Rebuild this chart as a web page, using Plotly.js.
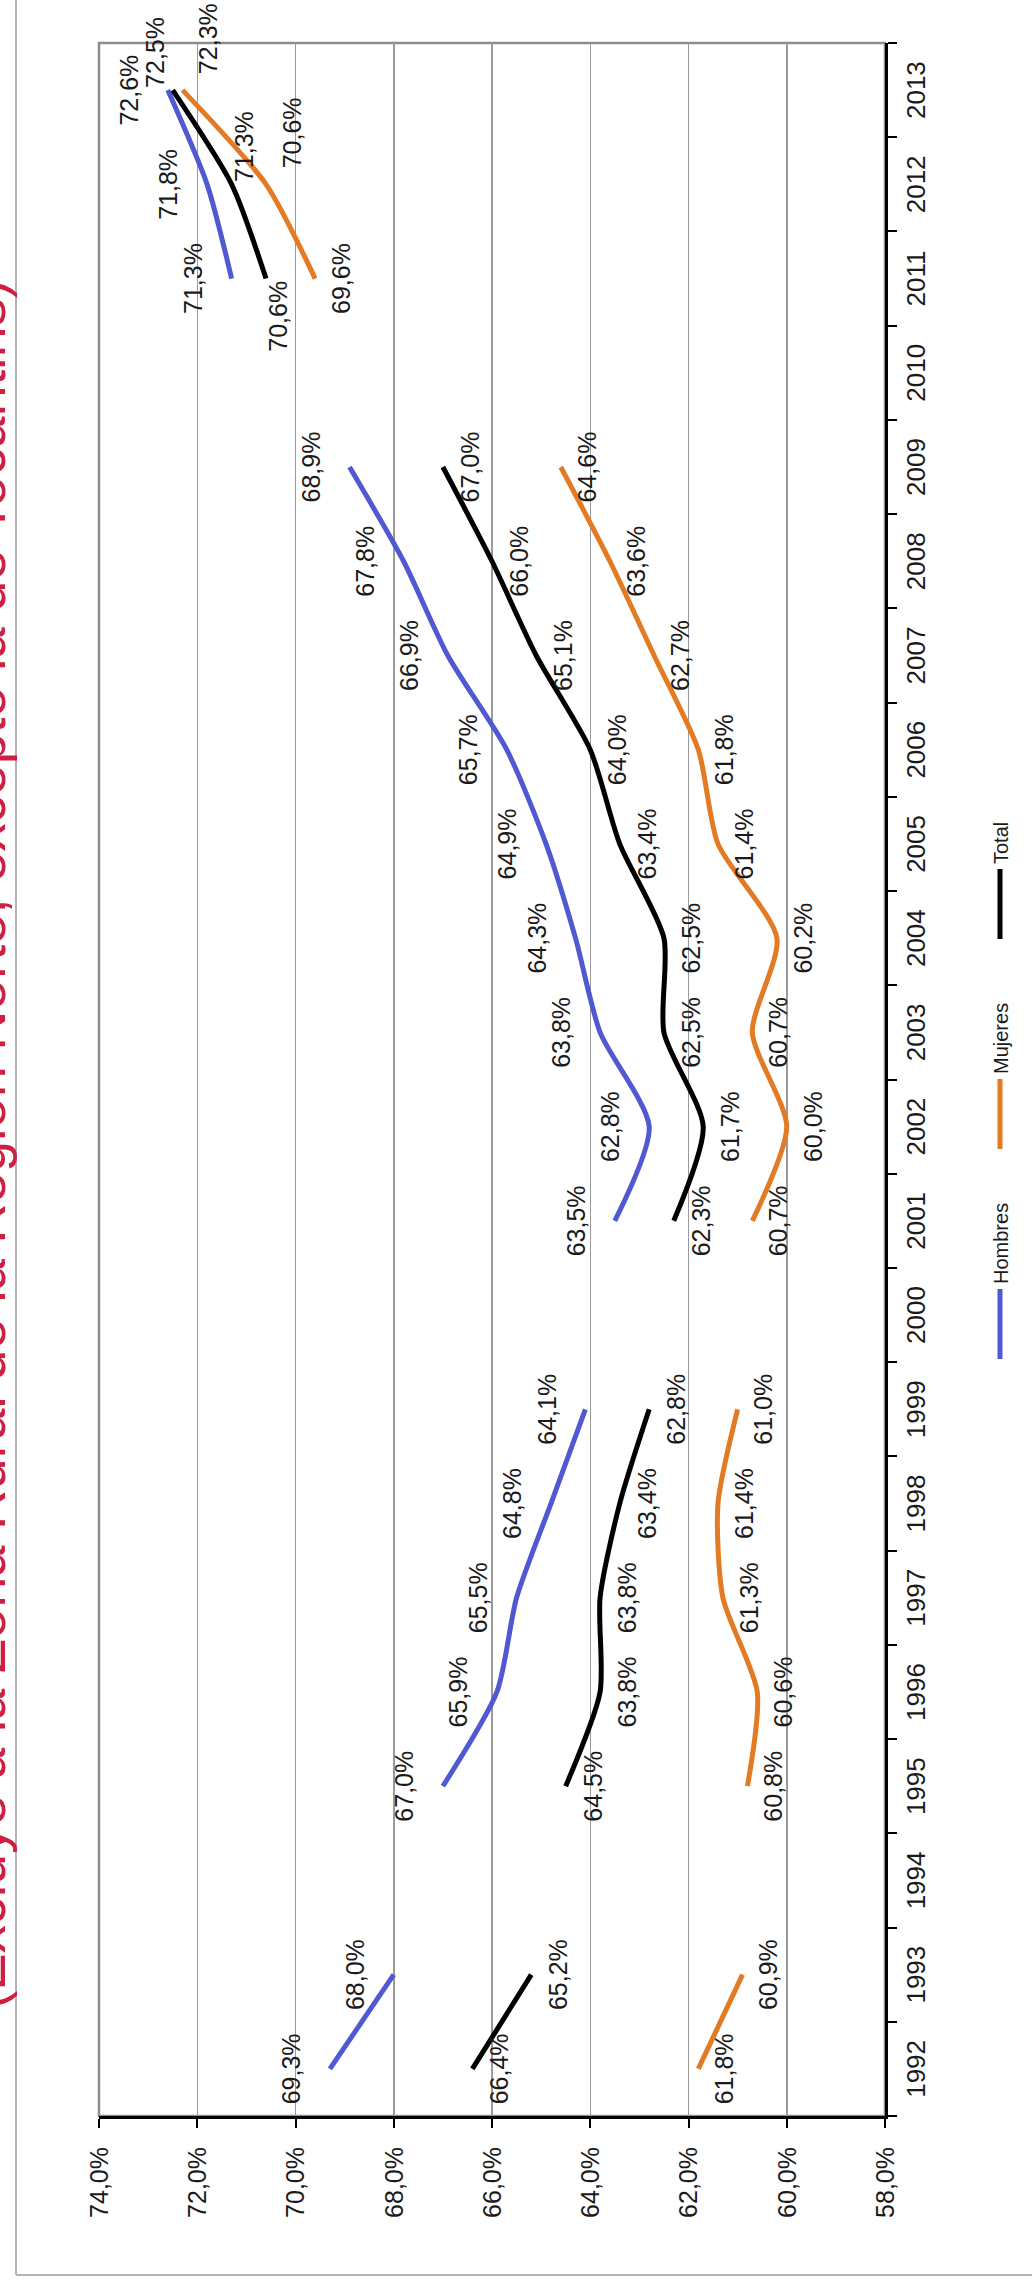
<!DOCTYPE html>
<html>
<head>
<meta charset="utf-8">
<script src="https://cdn.plot.ly/plotly-3.0.1.min.js"></script>
<style>
html, body { margin:0; padding:0; width:1032px; height:2289px; overflow:hidden; background:#fff; }
#wrap { position:absolute; left:0; top:0; width:2289px; height:1047px; transform-origin:0 0; transform:translate(-15px, 2289px) rotate(-90deg); }
</style>
</head>
<body>
<div id="wrap"><div id="chart"></div></div>
<script>
// Categories (years)
const years = ['1992','1993','1994','1995','1996','1997','1998','1999','2000','2001','2002',
               '2003','2004','2005','2006','2007','2008','2009','2010','2011','2012','2013'];
// Series values (%)
const hombres = [69.3, 68.0, null, 67.0, 65.9, 65.5, 64.8, 64.1, null, 63.5, 62.8,
                 63.8, 64.3, 64.9, 65.7, 66.9, 67.8, 68.9, null, 71.3, 71.8, 72.6];
const mujeres = [61.8, 60.9, null, 60.8, 60.6, 61.3, 61.4, 61.0, null, 60.7, 60.0,
                 60.7, 60.2, 61.4, 61.8, 62.7, 63.6, 64.6, null, 69.6, 70.6, 72.3];
const total   = [66.4, 65.2, null, 64.5, 63.8, 63.8, 63.4, 62.8, null, 62.3, 61.7,
                 62.5, 62.5, 63.4, 64.0, 65.1, 66.0, 67.0, null, 70.6, 71.3, 72.5];
const seriesNames = ['Hombres', 'Mujeres', 'Total'];
const pctTicks = [58, 60, 62, 64, 66, 68, 70, 72, 74];
const titleText = '* (Excluye a la Zona Rural de la Región Norte, excepto la de Tocantins) *';

const fmt = v => v == null ? '' : v.toFixed(1).replace('.', ',') + '%';
const FONT = 'Arial, "Liberation Sans", sans-serif';

// Label placement (style only)
const late = ['2011', '2012', '2013'];
const posH = years.map(() => 'top center');
const posM = years.map(y => (y === '2012' || y === '2013') ? 'bottom right' : 'bottom center');
const posT = years.map(y => y === '2013' ? 'top right' : (y === '2012' ? 'bottom right' : (y === '2011' ? 'bottom left' : 'bottom center')));
const sizeH = years.map(() => 36);
const sizeM = years.map(() => 24);
const sizeT = years.map(y => late.includes(y) ? 2 : 26);

function mk(name, vals, color, pos, msize) {
  return {
    type: 'scatter', mode: 'lines+markers+text', name: name,
    x: years, y: vals, text: vals.map(fmt), textposition: pos,
    textfont: {family: FONT, size: 25, color: '#1a1a1a'},
    line: {color: color, width: 5, shape: 'spline', smoothing: 0.7},
    marker: {size: msize, color: 'rgba(0,0,0,0)', line: {width: 0}},
    connectgaps: false, cliponaxis: false, hoverinfo: 'skip'
  };
}

const data = [
  mk(seriesNames[0], hombres, '#5058d2', posH, sizeH),
  mk(seriesNames[1], mujeres, '#e27b24', posM, sizeM),
  mk(seriesNames[2], total, '#000000', posT, sizeT)
];

// canvas is extended E px beyond the visible top edge (shifted off-screen by the CSS transform)
const E = 15;
const L = 173, R = 43, T = 99 + E, B = 147, W = 2289, H = 1032 + E;
const pw = W - L - R, ph = H - T - B;
const px = u => (u - L) / pw;            // horizontal px -> paper
const py = v => 1 - (v + E - T) / ph;    // visible vertical px -> paper

const layout = {
  width: W, height: H,
  margin: {l: L, r: R, t: T, b: B, pad: 0},
  paper_bgcolor: '#ffffff', plot_bgcolor: '#ffffff',
  separators: ',.',
  font: {family: FONT, size: 25, color: '#1a1a1a'},
  title: {text: titleText, xref: 'container', yref: 'container', x: 0.5, xanchor: 'center',
          y: 1, yanchor: 'middle', automargin: false,
          font: {family: FONT, size: 56, color: '#cf2043'}},
  showlegend: true,
  legend: {orientation: 'h', x: px(1240), xanchor: 'center', y: py(1000), yanchor: 'middle',
           font: {family: FONT, size: 20, color: '#1a1a1a'}, itemwidth: 70, entrywidth: 125,
           bgcolor: 'rgba(0,0,0,0)', traceorder: 'normal'},
  xaxis: {type: 'category', categoryorder: 'array', categoryarray: years,
          tickson: 'boundaries', ticks: 'outside', ticklen: 9, tickwidth: 2, tickcolor: '#000',
          showline: true, linecolor: '#000', linewidth: 3, showgrid: false, zeroline: false,
          tickfont: {family: FONT, size: 26, color: '#1a1a1a'}, ticklabelstandoff: 6,
          range: [-0.5, 21.5], fixedrange: true},
  yaxis: {range: [58, 74], tickmode: 'array', tickvals: pctTicks, ticktext: pctTicks.map(fmt),
          ticks: 'outside', ticklen: 9, tickwidth: 2, tickcolor: '#000',
          showline: true, linecolor: '#000', linewidth: 3,
          showgrid: true, gridcolor: '#9a9a9a', gridwidth: 1.5, zeroline: false,
          tickfont: {family: FONT, size: 25, color: '#1a1a1a'}, ticklabelstandoff: 14,
          fixedrange: true},
  shapes: [
    {type: 'rect', xref: 'paper', yref: 'paper', x0: 0, x1: 1, y0: 0, y1: 1,
     line: {color: '#8c8c8c', width: 2.5}, layer: 'below'},
    {type: 'line', xref: 'paper', yref: 'paper', x0: px(14), x1: px(2400), y0: py(16), y1: py(16),
     line: {color: '#b4b4b4', width: 2}},
    {type: 'line', xref: 'paper', yref: 'paper', x0: px(14), x1: px(14), y0: py(16), y1: py(1100),
     line: {color: '#b4b4b4', width: 2}}
  ]
};

Plotly.newPlot('chart', data, layout, {staticPlot: true, displayModeBar: false});
</script>
</body>
</html>
